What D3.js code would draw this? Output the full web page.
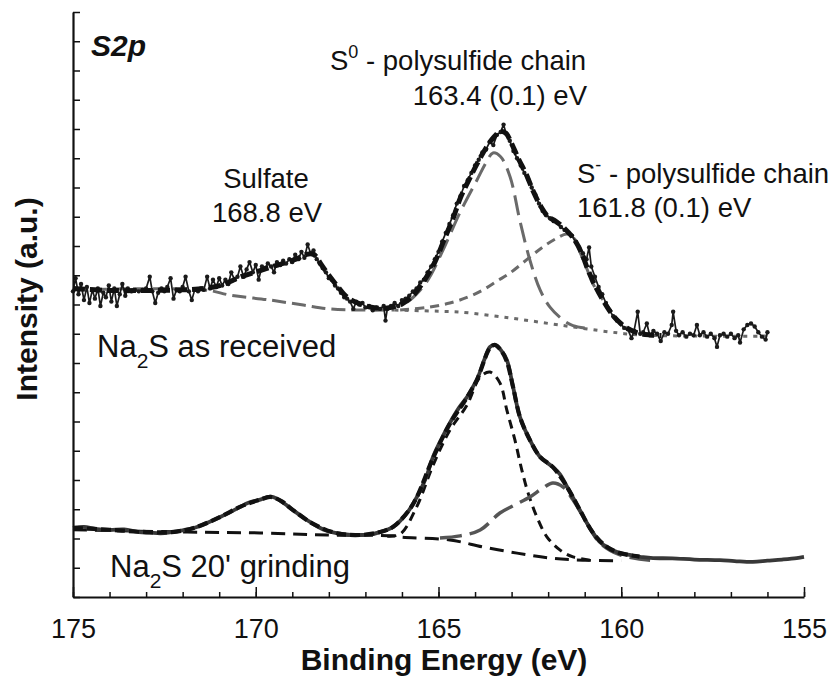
<!DOCTYPE html>
<html>
<head>
<meta charset="utf-8">
<script src="https://cdn.jsdelivr.net/npm/d3@7"></script>
<style>
  body { margin: 0; background: #fff; }
  svg text { font-family: 'Liberation Sans', Arial, sans-serif; fill: #111; }
</style>
</head>
<body>
<div id="chart"></div>
<script>
// S2p XPS spectra: [binding energy (eV), intensity (a.u.)]

const xTicksMajor = [175, 170, 165, 160, 155];
const xTicksMinor = d3.range(155, 176, 1);
const yTicks = d3.range(0, 21, 1);

// --- Na2S as received (upper) ---
const upperRaw = [
  [175.00,10.45],[174.93,10.90],[174.85,10.35],[174.78,10.70],[174.70,10.15],[174.62,10.60],[174.55,10.05],[174.47,10.50],
  [174.40,10.20],[174.32,10.55],[174.25,9.95],[174.17,10.40],[174.10,10.25],[174.02,10.65],[173.95,10.10],[173.87,10.55],
  [173.80,9.95],[173.72,10.35],[173.65,10.70],[173.57,10.30],[173.50,10.55],[173.40,10.45],[173.30,10.50],[173.20,10.45],
  [173.10,10.50],[173.00,10.55],[172.90,10.95],[172.83,10.45],[172.75,10.05],[172.67,10.40],[172.58,10.55],[172.50,10.45],
  [172.42,10.60],[172.33,10.90],[172.25,10.20],[172.17,10.50],[172.08,10.45],[172.00,10.60],[171.92,10.95],[171.83,10.45],
  [171.75,10.15],[171.67,10.50],[171.58,10.45],[171.50,10.55],[171.42,10.50],[171.33,10.95],[171.25,10.55],[171.17,10.85],
  [171.08,10.60],[171.00,10.90],[170.92,10.65],[170.83,10.85],[170.75,10.70],[170.67,11.10],[170.58,10.85],[170.50,10.95],
  [170.42,11.30],[170.33,10.95],[170.25,11.20],[170.17,11.45],[170.08,11.10],[170.00,11.35],[169.92,10.85],[169.83,11.30],
  [169.75,11.25],[169.67,11.40],[169.58,11.30],[169.50,11.10],[169.42,11.45],[169.33,11.35],[169.25,11.50],[169.17,11.40],
  [169.08,11.55],[169.00,11.45],[168.92,11.70],[168.83,11.55],[168.75,11.80],[168.67,11.60],[168.58,12.05],[168.50,11.75],
  [168.42,11.85],[168.33,11.55],[168.25,11.40],[168.17,11.25],[168.08,11.10],[168.00,10.90],[167.92,10.85],[167.83,10.65],
  [167.75,10.55],[167.67,10.40],[167.58,10.25],[167.50,10.20],[167.42,10.10],[167.33,9.85],[167.25,10.10],[167.17,10.00],
  [167.08,10.05],[167.00,9.90],[166.90,9.95],[166.80,9.80],[166.70,9.90],[166.60,9.85],[166.50,9.95],[166.45,9.45],
  [166.40,9.85],[166.30,9.95],[166.20,10.05],[166.10,9.95],[166.00,10.15],[165.90,10.20],[165.80,10.30],[165.70,10.45],
  [165.60,10.55],[165.50,10.75],[165.40,10.85],[165.30,11.10],[165.20,11.30],[165.10,11.55],[165.00,11.80],[164.90,12.15],
  [164.80,12.45],[164.70,12.75],[164.60,13.05],[164.50,13.45],[164.40,13.70],[164.30,14.05],[164.20,14.25],[164.10,14.50],
  [164.00,14.75],[163.90,14.95],[163.80,15.20],[163.70,15.30],[163.60,15.55],[163.50,15.45],[163.40,15.80],[163.30,15.90],
  [163.22,16.15],[163.15,15.85],[163.05,15.60],[162.95,15.25],[162.85,15.00],[162.75,14.75],[162.65,14.50],[162.55,14.30],
  [162.45,14.00],[162.35,13.75],[162.25,13.45],[162.15,13.20],[162.05,13.05],[161.95,12.95],[161.85,12.85],[161.75,12.80],
  [161.65,12.65],[161.55,12.55],[161.45,12.45],[161.35,12.35],[161.25,12.15],[161.15,11.95],[161.05,11.75],[160.95,11.55],
  [160.88,11.95],[160.82,11.30],[160.72,10.95],[160.62,10.60],[160.52,10.35],[160.42,10.05],[160.32,9.80],[160.22,9.60],
  [160.12,9.45],[160.02,9.35],[159.92,9.20],[159.82,9.15],[159.72,8.85],[159.65,9.10],[159.55,9.75],[159.48,9.00],
  [159.40,9.05],[159.30,9.35],[159.22,8.95],[159.12,9.10],[159.02,9.00],[158.92,8.75],[158.82,9.05],[158.72,9.00],
  [158.62,9.30],[158.58,9.75],[158.50,9.10],[158.42,8.95],[158.32,9.05],[158.22,8.90],[158.12,9.00],[158.02,8.95],
  [157.93,9.30],[157.85,8.95],[157.75,9.05],[157.65,8.90],[157.55,9.00],[157.45,8.85],[157.38,8.55],[157.30,8.95],
  [157.20,9.00],[157.10,8.90],[157.00,9.00],[156.90,8.85],[156.80,8.95],[156.75,8.70],[156.65,9.15],[156.55,9.30],
  [156.45,9.35],[156.35,9.25],[156.25,9.05],[156.15,8.90],[156.05,8.80],[156.00,9.05]
];

const upperFit = [
  [175.0,10.55],[174.0,10.48],[173.0,10.48],[172.0,10.50],[171.4,10.55],[170.9,10.68],[170.4,10.95],[169.9,11.15],
  [169.4,11.35],[168.9,11.55],[168.6,11.72],[168.4,11.70],[168.2,11.35],[168.0,11.00],[167.75,10.60],[167.5,10.25],
  [167.15,10.02],[166.8,9.90],[166.4,9.88],[166.0,10.02],[165.7,10.30],[165.4,10.80],[165.1,11.45],[164.85,12.20],
  [164.6,12.95],[164.4,13.65],[164.15,14.30],[163.95,14.80],[163.7,15.35],[163.5,15.70],[163.3,15.92],[163.15,15.85],
  [163.0,15.50],[162.8,14.95],[162.6,14.45],[162.4,13.85],[162.2,13.35],[162.0,13.00],[161.8,12.85],[161.55,12.60],
  [161.3,12.25],[161.1,11.80],[160.9,11.15],[160.7,10.60],[160.5,10.15],[160.3,9.75],[160.1,9.45],[159.85,9.20],
  [159.55,9.03],[159.2,8.96],[158.9,8.94]
];

const upperBgLeft = [
  [175.0,10.50],[171.4,10.50],[170.7,10.32],[169.6,10.15],[168.7,9.98],[168.0,9.85],[167.15,9.81],[166.2,9.81]
];
const upperBgRight = [
  [166.2,9.81],[165.0,9.77],[164.4,9.74],[163.05,9.54],[161.7,9.30],[160.3,9.06],[159.5,8.96],[157.85,8.92],[156.0,8.92]
];

const upperS0 = [
  [166.6,9.86],[166.0,10.0],[165.78,10.15],[165.31,10.80],[164.88,11.85],[164.41,13.15],[163.95,14.25],[163.7,14.85],
  [163.51,15.18],[163.3,15.05],[163.04,14.36],[162.77,12.85],[162.50,11.52],[162.22,10.50],[161.95,9.91],[161.59,9.47],
  [161.32,9.28],[161.0,9.20]
];

const upperSm = [
  [166.05,9.81],[165.3,9.90],[164.69,10.05],[164.2,10.25],[163.78,10.50],[163.4,10.80],[163.04,11.08],[162.50,11.62],
  [162.14,11.97],[161.76,12.27],[161.48,12.41],[161.25,12.20],[161.13,11.80],[160.95,11.25],[160.77,10.70],[160.55,10.25],
  [160.39,9.98],[160.12,9.50],[159.84,9.20],[159.49,8.99]
];

// --- Na2S 20' grinding (lower) ---
const lowerData = [
  [175.0,2.36],[174.7,2.40],[174.4,2.33],[174.0,2.29],[173.6,2.31],[173.2,2.22],[172.9,2.20],[172.6,2.18],[172.3,2.22],
  [172.0,2.28],[171.7,2.36],[171.4,2.50],[171.0,2.72],[170.7,2.90],[170.4,3.10],[170.2,3.22],[169.9,3.32],[169.6,3.43],
  [169.4,3.35],[169.2,3.18],[168.98,2.97],[168.7,2.72],[168.43,2.50],[168.1,2.28],[167.78,2.18],[167.4,2.12],[167.15,2.12],
  [166.8,2.15],[166.6,2.22],[166.4,2.30],[166.24,2.40],[166.05,2.60],[165.8,2.98],[165.59,3.42],[165.35,4.05],[165.15,4.79],
  [164.9,5.45],[164.69,5.95],[164.45,6.45],[164.22,6.84],[164.05,7.20],[163.95,7.42],[163.75,8.10],[163.59,8.55],
  [163.46,8.62],[163.3,8.45],[163.13,8.10],[162.96,7.18],[162.77,6.15],[162.5,5.37],[162.22,4.79],[161.87,4.44],
  [161.68,4.20],[161.48,3.76],[161.3,3.35],[161.13,2.97],[160.95,2.55],[160.77,2.19],[160.58,1.88],[160.39,1.71],
  [160.2,1.58],[160.03,1.50],[159.7,1.42],[159.4,1.36],[159.13,1.33],[158.6,1.32],[158.0,1.28],[157.3,1.26],
  [156.9,1.23],[156.4,1.20],[156.0,1.24],[155.6,1.28],[155.2,1.33],[155.0,1.37]
];

const lowerFit = [
  [175.0,2.36],[174.0,2.30],[173.0,2.22],[172.3,2.22],[171.7,2.36],[171.0,2.72],[170.4,3.10],[169.9,3.32],[169.6,3.42],
  [169.3,3.28],[168.98,2.97],[168.43,2.50],[167.78,2.18],[167.15,2.12],[166.6,2.22],[166.24,2.40],[165.8,2.98],
  [165.59,3.42],[165.15,4.75],[164.69,5.92],[164.22,6.82],[163.95,7.42],[163.59,8.52],[163.46,8.62],[163.3,8.45],
  [163.13,8.05],[162.96,7.18],[162.77,6.15],[162.5,5.37],[162.22,4.79],[161.87,4.44],[161.48,3.76],[161.13,2.97],
  [160.77,2.19],[160.39,1.71],[160.03,1.50],[159.5,1.38]
];

const lowerBg = [
  [175.0,2.30],[171.88,2.22],[169.88,2.19],[168.05,2.12],[166.24,2.09],[166.05,2.05],[164.69,1.95],[163.78,1.71],
  [162.85,1.50],[161.95,1.33],[161.05,1.26],[160.0,1.24]
];

const lowerS0 = [
  [166.4,2.08],[166.05,2.15],[165.59,3.10],[165.15,4.50],[164.69,5.70],[164.22,6.56],[163.86,7.52],[163.59,7.69],
  [163.32,7.32],[163.13,6.39],[162.91,5.37],[162.72,4.34],[162.55,3.56],[162.31,2.74],[162.03,2.05],[161.68,1.61],
  [161.32,1.37],[160.86,1.26]
];

const lowerSm = [
  [164.96,2.02],[164.41,2.09],[163.86,2.29],[163.32,2.87],[162.91,3.15],[162.50,3.42],[162.14,3.73],[161.87,3.90],
  [161.59,3.76],[161.32,3.32],[160.94,2.53],[160.58,1.85],[160.03,1.44],[159.21,1.26]
];

// --- layout ---
const svgWidth = 837;
const svgHeight = 684;
const plot = { left: 73, right: 804, top: 12, bottom: 597 };

const svg = d3.select('#chart')
  .append('svg')
  .attr('width', svgWidth)
  .attr('height', svgHeight);

svg.append('rect').attr('width', svgWidth).attr('height', svgHeight).attr('fill', '#fff');

const x = d3.scaleLinear().domain([175, 155]).range([plot.left, plot.right]);
const y = d3.scaleLinear().domain([0, 20]).range([plot.bottom, plot.top]);

const line = d3.line().x(d => x(d[0])).y(d => y(d[1]));
const smooth = d3.line().x(d => x(d[0])).y(d => y(d[1])).curve(d3.curveCatmullRom.alpha(0.5));

function drawPath(data, gen, color, width, dash) {
  svg.append('path')
    .datum(data)
    .attr('d', gen)
    .attr('fill', 'none')
    .attr('stroke', color)
    .attr('stroke-width', width)
    .attr('stroke-dasharray', dash || null)
    .attr('stroke-linejoin', 'round');
}

// upper spectrum
drawPath(upperBgLeft, smooth, '#6a6a6a', 3, '14,6');
drawPath(upperBgRight, smooth, '#6a6a6a', 3, '4,6');
drawPath(upperSm, smooth, '#6a6a6a', 3, '9,6');
drawPath(upperS0, smooth, '#6a6a6a', 3, '20,8');
drawPath(upperRaw, line, '#1a1a1a', 1.7);
svg.append('g').selectAll('circle')
  .data(upperRaw)
  .join('circle')
  .attr('cx', d => x(d[0]))
  .attr('cy', d => y(d[1]))
  .attr('r', 2.2)
  .attr('fill', '#1a1a1a');
drawPath(upperFit, smooth, '#111', 5, '12,5');

// lower spectrum
drawPath(lowerBg, smooth, '#111', 3, '14,8');
drawPath(lowerS0, smooth, '#111', 3, '9,6');
drawPath(lowerSm, smooth, '#555', 3.5, '22,8');
drawPath(lowerData, smooth, '#383838', 3.8);
drawPath(lowerFit, smooth, '#111', 4.2, '10,4');

// axes, ticks pointing inward
const xMinor = svg.append('g')
  .attr('transform', `translate(0,${plot.bottom})`)
  .call(d3.axisBottom(x).tickValues(xTicksMinor).tickSize(-5).tickSizeOuter(0).tickFormat(''));
xMinor.select('.domain').remove();

const xMajor = svg.append('g')
  .attr('transform', `translate(0,${plot.bottom})`)
  .call(d3.axisBottom(x).tickValues(xTicksMajor).tickSize(-10).tickSizeOuter(0).tickPadding(22).tickFormat(d3.format('d')));
xMajor.selectAll('text').attr('font-size', 27).attr('fill', '#111');

const yAxis = svg.append('g')
  .attr('transform', `translate(${plot.left},0)`)
  .call(d3.axisLeft(y).tickValues(yTicks).tickSize(-7).tickSizeOuter(0).tickFormat(''));

svg.selectAll('.domain').attr('stroke', '#111').attr('stroke-width', 2.2);
svg.selectAll('.tick line').attr('stroke', '#111').attr('stroke-width', 1.5);

// axis titles
svg.append('text')
  .attr('x', 444).attr('y', 670)
  .attr('text-anchor', 'middle')
  .attr('font-size', 30).attr('font-weight', 'bold')
  .text('Binding Energy (eV)');

svg.append('text')
  .attr('transform', 'translate(37,299) rotate(-90)')
  .attr('text-anchor', 'middle')
  .attr('font-size', 30).attr('font-weight', 'bold')
  .text('Intensity (a.u.)');

// annotations
svg.append('text')
  .attr('x', 91).attr('y', 56)
  .attr('font-size', 30).attr('font-weight', 'bold').attr('font-style', 'italic')
  .text('S2p');

function label(xp, yp, parts, anchor, size) {
  const t = svg.append('text')
    .attr('x', xp).attr('y', yp)
    .attr('font-size', size || 27.5)
    .attr('text-anchor', anchor || 'start');
  parts.forEach(p => {
    const s = t.append('tspan').text(p.text);
    if (p.sup) s.attr('font-size', 18).attr('dy', -12);
    if (p.sub) s.attr('font-size', 21).attr('dy', 11);
    if (p.back) s.attr('dy', p.back);
  });
}

label(330, 70, [{ text: 'S' }, { text: '0', sup: true }, { text: ' - polysulfide chain', back: 12 }]);
label(587, 105, [{ text: '163.4 (0.1) eV' }], 'end');
label(266, 188, [{ text: 'Sulfate' }], 'middle');
label(267, 222, [{ text: '168.8 eV' }], 'middle');
label(577, 183, [{ text: 'S' }, { text: '-', sup: true }, { text: ' - polysulfide chain', back: 12 }]);
label(577, 217, [{ text: '161.8 (0.1) eV' }]);
label(97, 357, [{ text: 'Na' }, { text: '2', sub: true }, { text: 'S as received', back: -11 }], 'start', 31);
label(110, 577, [{ text: 'Na' }, { text: '2', sub: true }, { text: "S 20' grinding", back: -11 }], 'start', 31);
</script>
</body>
</html>
